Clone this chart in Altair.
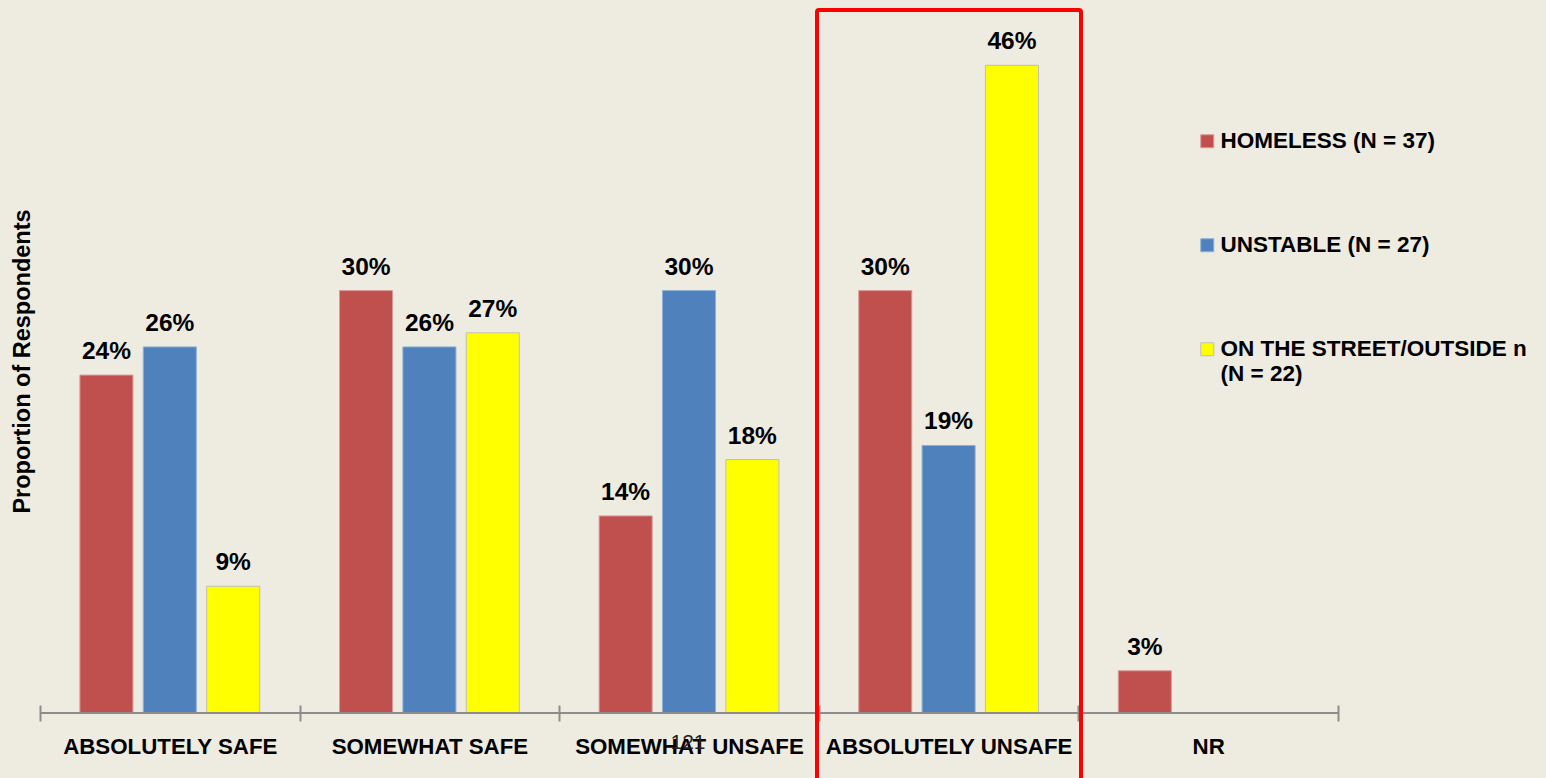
import altair as alt
import pandas as pd

categories = ["ABSOLUTELY SAFE", "SOMEWHAT SAFE", "SOMEWHAT UNSAFE", "ABSOLUTELY UNSAFE", "NR"]
series = ["HOMELESS (N = 37)", "UNSTABLE (N = 27)", "ON THE STREET/OUTSIDE n (N = 22)"]
homeless = [24, 30, 14, 30, 3]
unstable = [26, 26, 30, 19, None]
street = [9, 27, 18, 46, None]
colors = ["#C0504D", "#4F81BD", "#FFFF00"]
edges = ["#D99A98", "#8FAFD6", "#BFBFBF"]

rows = []
for i, c in enumerate(categories):
    for s, vals in zip(series, [homeless, unstable, street]):
        v = vals[i]
        if v is not None:
            rows.append({"cat": c, "series": s, "value": v, "label": f"{v}%"})
df = pd.DataFrame(rows)

W, H = 1298, 704
FONT = "Liberation Sans"

xenc = alt.X("cat:N", sort=categories,
             scale=alt.Scale(paddingInner=0, paddingOuter=0),
             axis=alt.Axis(title=None, domain=False, tickBand="extent", tickSize=16,
                           offset=-8, tickColor="#8C8C8C", tickWidth=2,
                           labelFont=FONT, labelFontSize=22.3, labelFontWeight="bold",
                           labelColor="#000000", labelPadding=14, labelAngle=0,
                           labelLimit=0))
xoff = alt.XOffset("series:N", sort=series,
                   scale=alt.Scale(paddingInner=0.163, paddingOuter=0.63))
yenc = alt.Y("value:Q", scale=alt.Scale(domain=[0, 50]),
             axis=alt.Axis(title="Proportion of Respondents", labels=False, ticks=False,
                           domain=False, grid=False, titleFont=FONT, titleFontSize=23.5,
                           titleFontWeight="bold", titleColor="#000000", titlePadding=6))

base = alt.Chart(df)

bars = base.mark_bar(strokeWidth=1).encode(
    x=xenc, xOffset=xoff, y=yenc,
    color=alt.Color("series:N", sort=series,
                    scale=alt.Scale(domain=series, range=colors),
                    legend=alt.Legend(
                        title=None, orient="none", legendX=1156, legendY=121,
                        symbolType="square", symbolSize=169, symbolStrokeWidth=1,
                        labelFont=FONT, labelFontSize=22.5, labelFontWeight="bold",
                        labelColor="#000000", labelOffset=2, rowPadding=81,
                        labelLimit=400,
                        labelExpr="datum.label == 'ON THE STREET/OUTSIDE n (N = 22)' ? ['ON THE STREET/OUTSIDE n', '(N = 22)'] : datum.label")),
    stroke=alt.Stroke("series:N", sort=series,
                      scale=alt.Scale(domain=series, range=edges), legend=None),
)

labels = base.mark_text(font=FONT, fontSize=24.5, fontWeight="bold", color="#000000",
                        baseline="alphabetic", dy=-16).encode(
    x=alt.X("cat:N", sort=categories), xOffset=alt.XOffset("series:N", sort=series),
    y="value:Q", text="label:N")

baseline = alt.Chart(pd.DataFrame({"v": [0]})).mark_rule(color="#8C8C8C", strokeWidth=2).encode(
    y=alt.Y("v:Q"), x=alt.value(0), x2=alt.value(W))

box = alt.Chart(pd.DataFrame({"v": [0]})).mark_rect(
    fill="transparent", stroke="#FF0000", strokeWidth=4, cornerRadius=2).encode(
    x=alt.value(777), x2=alt.value(1041), y=alt.value(1), y2=alt.value(800))

slide_no = alt.Chart(pd.DataFrame({"v": [0]})).mark_text(
    font=FONT, fontSize=21, color="#222222", baseline="middle").encode(
    x=alt.value(648), y=alt.value(734), text=alt.value("121"))

chart = alt.layer(bars, labels, baseline, box, slide_no).properties(
    width=W, height=H, background="#EEEBE0",
    padding={"left": 40, "top": 9, "right": 208, "bottom": 65},
    autosize=alt.AutoSizeParams(type="none"),
).configure_view(stroke=None)

chart.save("out.html", embed_options={"renderer": "svg", "actions": False})
